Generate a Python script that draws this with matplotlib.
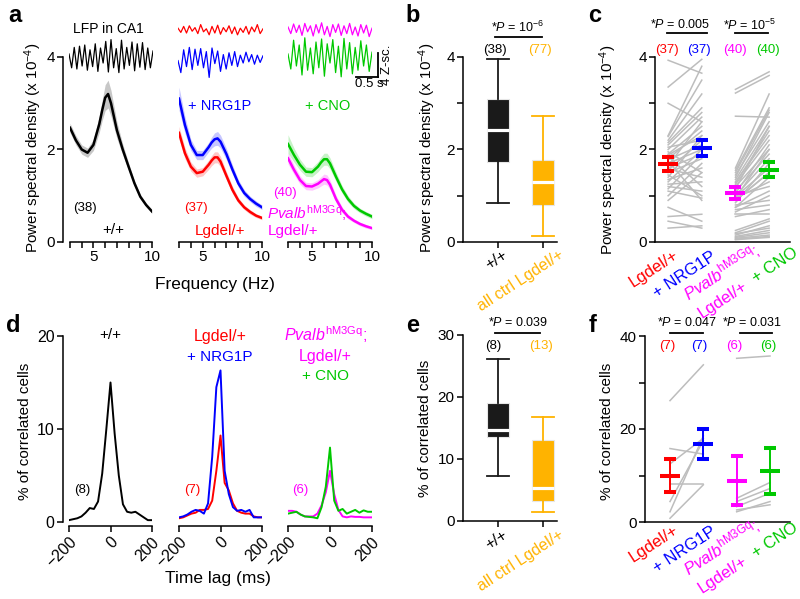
import numpy as np
import matplotlib
matplotlib.use('Agg')
import matplotlib.pyplot as plt
from matplotlib.lines import Line2D

plt.rcParams['font.family'] = ['Liberation Sans', 'DejaVu Sans']
plt.rcParams['mathtext.fontset'] = 'custom'
plt.rcParams['mathtext.rm'] = 'Liberation Sans'
plt.rcParams['mathtext.it'] = 'Liberation Sans:italic'
plt.rcParams['mathtext.bf'] = 'Liberation Sans:bold'
plt.rcParams['axes.linewidth'] = 1.1

# ---------------- data ----------------
# (a) LFP example traces (z-score), peaks/troughs
lfp_duration_s = 1.9
lfp_wt = [0.5, -1.8, 1.6, -2.0, 1.8, -1.5, 2.0, -2.2, 1.2, -1.6, 2.2, -2.4, 1.5, -1.0, 2.6, -2.5,
          2.9, -1.8, 1.4, -2.6, 2.8, -2.0, 1.6, -1.4, 2.5, -2.3, 2.2, -1.7, 2.4, -2.1, 1.5, -1.8, 1.0]
lfp_lg = [0.3, -0.4, 0.6, -0.5, 0.7, -0.2, 0.4, -0.6, 0.9, -0.3, 0.2, -0.8, 0.6, -0.5, 0.8, -0.7,
          0.4, -0.3, 0.7, -0.6, 0.5, -0.8, 0.3, -0.4, 0.6, -0.7, 0.5, -0.3, 0.9, -0.6, 0.2]
lfp_nrg = [0.0, -2.0, 1.8, -1.0, 2.2, -1.5, 1.9, -0.8, 2.0, -1.2, 1.5, -2.8, 2.1, -0.5, 1.6, -1.8,
           1.0, -1.4, 1.3, -0.8, 1.5, -1.0, 0.9, -0.4, 1.4, -0.2, 1.0, -0.6, 0.9, -0.3, 0.8]
lfp_pv = [0.5, -0.6, 1.0, -0.4, 0.8, -0.9, 1.1, -0.3, 0.7, -1.0, 0.9, -0.5, 1.2, -0.8, 0.6, -1.1,
          0.9, -0.4, 1.0, -0.9, 0.7, -0.6, 1.1, -0.8, 0.5, -1.0, 0.9, -0.5, 0.8, -1.1, 0.3]
lfp_cno = [0.5, -2.0, 2.8, -1.5, 2.0, -3.0, 3.2, -2.2, 1.5, -2.8, 2.5, -1.8, 3.0, -3.2, 2.2, -1.0,
           2.9, -2.6, 1.8, -3.3, 3.1, -2.0, 2.4, -2.8, 1.6, -2.2, 2.7, -1.5, 2.0, -2.4, 0.8]

# (a) power spectra (x 1e-4)
freq = [3, 3.5, 4, 4.5, 5, 5.5, 5.75, 6, 6.25, 6.5, 7, 7.5, 8, 8.5, 9, 9.5, 10]
psd_wt = [2.47, 2.2, 2.0, 1.93, 2.1, 2.55, 2.85, 3.12, 3.2, 3.0, 2.42, 2.0, 1.63, 1.27, 0.98, 0.8, 0.66]
psd_wt_sem = [0.1, 0.1, 0.1, 0.1, 0.12, 0.18, 0.22, 0.28, 0.3, 0.28, 0.18, 0.12, 0.08, 0.06, 0.05, 0.04, 0.04]
psd_lg = [2.36, 1.92, 1.63, 1.49, 1.52, 1.67, 1.76, 1.83, 1.83, 1.74, 1.43, 1.13, 0.9, 0.75, 0.65, 0.57, 0.52]
psd_lg_sem = [0.14, 0.12, 0.1, 0.09, 0.09, 0.1, 0.11, 0.12, 0.12, 0.11, 0.09, 0.08, 0.06, 0.05, 0.05, 0.04, 0.04]
psd_nrg = [3.1, 2.53, 2.1, 1.88, 1.88, 2.05, 2.15, 2.22, 2.24, 2.17, 1.9, 1.57, 1.27, 1.06, 0.93, 0.83, 0.75]
psd_nrg_sem = [0.25, 0.18, 0.12, 0.1, 0.1, 0.1, 0.12, 0.14, 0.15, 0.14, 0.12, 0.1, 0.08, 0.07, 0.06, 0.06, 0.05]
psd_pv = [1.81, 1.56, 1.34, 1.21, 1.2, 1.26, 1.31, 1.36, 1.34, 1.24, 0.93, 0.7, 0.55, 0.46, 0.39, 0.34, 0.3]
psd_pv_sem = [0.12, 0.1, 0.09, 0.08, 0.08, 0.09, 0.1, 0.11, 0.11, 0.1, 0.08, 0.06, 0.05, 0.04, 0.04, 0.04, 0.03]
psd_cno = [2.12, 1.88, 1.67, 1.52, 1.51, 1.63, 1.72, 1.79, 1.79, 1.7, 1.41, 1.14, 0.93, 0.78, 0.68, 0.61, 0.55]
psd_cno_sem = [0.2, 0.15, 0.12, 0.1, 0.1, 0.11, 0.12, 0.13, 0.13, 0.12, 0.1, 0.08, 0.07, 0.06, 0.05, 0.05, 0.05]

# (b) box stats: whislo, q1, median, q3, whishi
box_psd_wt = [0.85, 1.73, 2.42, 3.1, 3.95]
box_psd_ctrl = [0.13, 0.8, 1.3, 1.78, 2.72]

# (c) paired PSD values
c_lg = [3.93, 3.35, 3.0, 2.3, 2.28, 2.2, 2.15, 2.1, 2.05, 2.0, 1.95, 1.9, 1.88, 1.85, 1.8, 1.78, 1.75,
        1.7, 1.65, 1.6, 1.58, 1.55, 1.5, 1.45, 1.4, 1.35, 1.3, 1.25, 1.2, 1.15, 1.1, 1.0, 0.9, 0.75,
        0.55, 0.45, 0.3]
c_nrg = [3.65, 3.95, 2.6, 3.8, 3.5, 3.2, 2.9, 2.8, 2.2, 2.7, 1.5, 2.5, 2.3, 1.2, 2.4, 2.1, 0.9,
         2.0, 2.6, 1.9, 1.4, 2.2, 1.8, 1.0, 2.3, 1.6, 2.0, 1.3, 1.1, 1.9, 0.95, 1.7, 1.5, 0.45,
         0.6, 0.3, 0.35]
c_pv = [3.3, 3.22, 2.72, 1.6, 1.55, 1.5, 1.45, 1.4, 1.35, 1.3, 1.28, 1.25, 1.2, 1.15, 1.1, 1.05,
        1.0, 0.98, 0.95, 0.9, 0.85, 0.75, 1.0, 0.95, 0.9, 0.8, 0.75, 0.7, 0.65, 0.6, 0.55, 0.25,
        0.2, 0.18, 0.15, 0.12, 0.1, 0.08, 0.06, 0.05]
c_cno = [3.68, 3.6, 2.7, 3.2, 2.9, 2.85, 2.6, 2.8, 2.5, 2.3, 2.4, 2.2, 2.0, 2.5, 1.9, 2.1,
         1.8, 1.6, 2.0, 1.5, 1.7, 1.4, 1.2, 1.3, 1.5, 0.9, 1.1, 0.8, 1.0, 0.6, 0.7, 0.5,
         0.45, 0.3, 0.35, 0.25, 0.2, 0.15, 0.12, 0.1]
c_means = [1.69, 2.03, 1.05, 1.56]
c_sems = [0.145, 0.165, 0.13, 0.16]

# (d) cross-correlograms
lag_ms = [-200, -180, -160, -140, -120, -100, -80, -60, -40, -20, 0, 20, 40, 60, 80, 100, 120, 140, 160, 180, 200]
xc_wt = [0.2, 0.3, 0.4, 0.6, 1.0, 1.5, 1.4, 2.2, 5.2, 10.0, 15.0, 9.5, 5.0, 1.9, 1.1, 1.0, 1.1, 0.8, 0.5, 0.2, 0.2]
xc_lg = [0.4, 0.5, 0.7, 0.9, 1.0, 1.3, 1.3, 1.4, 2.3, 5.5, 9.3, 4.2, 3.4, 2.0, 1.2, 1.0, 0.9, 0.9, 0.6, 0.5, 0.5]
xc_nrg = [0.5, 0.6, 0.8, 1.1, 1.3, 1.2, 0.9, 2.0, 7.0, 14.5, 16.3, 5.5, 3.0, 1.6, 1.2, 1.3, 1.1, 1.3, 0.5, 0.5, 0.5]
xc_pv = [1.2, 1.2, 1.1, 0.8, 0.6, 0.6, 0.6, 0.9, 1.8, 3.2, 5.5, 3.0, 1.3, 0.6, 0.5, 0.6, 0.55, 0.55, 0.5, 0.5, 0.5]
xc_cno = [0.9, 1.0, 1.1, 0.8, 0.6, 0.55, 0.5, 0.4, 1.6, 3.8, 8.0, 2.3, 1.2, 1.4, 0.9, 1.1, 1.3, 1.0, 1.25, 1.1, 1.1]

# (e) box stats
box_corr_wt = [7.3, 13.5, 14.6, 19.1, 26.1]
box_corr_ctrl = [1.5, 3.3, 5.4, 13.0, 16.7]

# (f) paired correlated-cell percentages
f_lg = [26.1, 15.8, 12.5, 8.2, 4.4, 2.2, 0.8]
f_nrg = [33.8, 14.6, 18.0, 8.2, 17.5, 18.5, 8.0]
f_pv = [35.2, 5.1, 4.4, 3.3, 2.6, 2.2]
f_cno = [35.7, 8.5, 7.2, 6.2, 3.7, 4.4]
f_means = [10.0, 16.8, 8.9, 11.0]
f_sems = [3.5, 3.25, 5.3, 5.0]

# ---------------- style ----------------
RED, BLUE, MAG, GRN, ORG = '#ff0000', '#0000ff', '#ff00ff', '#00c800', '#ffb300'
GRAY = '#bdbdbd'
W, H = 800, 599
PT = 72 / 100.0
fig = plt.figure(figsize=(8, 5.99), dpi=100)


def add_ax(x0, y0, x1, y1):
    ax = fig.add_axes([x0 / W, 1 - y1 / H, (x1 - x0) / W, (y1 - y0) / H])
    ax.patch.set_visible(False)
    return ax


def ftext(x, y, s, **kw):
    kw.setdefault('ha', 'center')
    kw.setdefault('va', 'center')
    return fig.text(x / W, 1 - y / H, s, **kw)


def fline(x0, x1, y, lw=1.3):
    fig.add_artist(Line2D([x0 / W, x1 / W], [1 - y / H, 1 - y / H], color='black', lw=lw))


def style(ax, left=True, left_off=0, bottom_off=0, yb=None, xb=None, fs=11):
    for s in ['top', 'right']:
        ax.spines[s].set_visible(False)
    if left:
        ax.spines['left'].set_position(('outward', left_off * PT))
        if yb is not None:
            ax.spines['left'].set_bounds(*yb)
    else:
        ax.spines['left'].set_visible(False)
        ax.tick_params(axis='y', which='both', left=False, labelleft=False)
    ax.spines['bottom'].set_position(('outward', bottom_off * PT))
    if xb is not None:
        ax.spines['bottom'].set_bounds(*xb)
    ax.tick_params(which='both', direction='out', length=4, width=1.1, labelsize=fs, pad=2)


# ---------------- panel a ----------------
a_cols = [(70, 152), (179, 262), (288, 372)]
psd_sets = [[(psd_wt, psd_wt_sem, 'black')],
            [(psd_lg, psd_lg_sem, RED), (psd_nrg, psd_nrg_sem, BLUE)],
            [(psd_pv, psd_pv_sem, MAG), (psd_cno, psd_cno_sem, GRN)]]
for i, (x0, x1) in enumerate(a_cols):
    ax = add_ax(x0, 57, x1, 242)
    for m, s, c in psd_sets[i]:
        m = np.asarray(m); s = np.asarray(s)
        ax.fill_between(freq, m - s, m + s, color=c, alpha=0.22, lw=0)
        ax.plot(freq, m, color=c, lw=1.8)
    ax.set_xlim(3, 10); ax.set_ylim(0, 4)
    style(ax, left=(i == 0), left_off=7, yb=(0, 4), xb=(3, 10))
    ax.set_xticks([5, 10]); ax.set_xticks([3, 4, 6, 7, 8, 9], minor=True)
    ax.set_yticks([0, 2, 4])

# LFP traces
lfp_sets = [[(lfp_wt, 0.0, 'black')], [(lfp_lg, 4.5, RED), (lfp_nrg, -0.6, BLUE)],
            [(lfp_pv, 4.5, MAG), (lfp_cno, 0.0, GRN)]]
lfp_cols = [(69, 153), (178, 263), (288, 372)]
for i, (x0, x1) in enumerate(lfp_cols):
    ax = add_ax(x0, 15, x1, 85)
    ax.axis('off')
    ax.set_xlim(0, lfp_duration_s); ax.set_ylim(-4.667, 7.0)
    for tr, off, c in lfp_sets[i]:
        t = np.linspace(0, lfp_duration_s, len(tr))
        ax.plot(t, np.asarray(tr) + off, color=c, lw=0.9)
    if i == 2:
        ax.plot([1.536, 2.036], [-3.33, -3.33], color='black', lw=1.3, clip_on=False)
        ax.plot([2.036, 2.036], [-3.33, 0.67], color='black', lw=1.3, clip_on=False)
ftext(369, 84, '0.5 s', fontsize=9.5)
ftext(387, 65, '4 Z-sc.', fontsize=9.5, rotation=90)

ftext(108, 29, 'LFP in CA1', fontsize=10)
ftext(85, 208, '(38)', fontsize=9.5)
ftext(113, 230, '+/+', fontsize=11)
ftext(220, 106, '+ NRG1P', fontsize=10.5, color=BLUE)
ftext(196, 208, '(37)', fontsize=9.5, color=RED)
ftext(220, 231, 'Lgdel/+', fontsize=11, color=RED)
ftext(328, 106, '+ CNO', fontsize=10.5, color=GRN)
ftext(285, 193, '(40)', fontsize=9.5, color=MAG)
ftext(267, 213, r'$\mathit{Pvalb}^{\mathrm{hM3Gq}}$;', fontsize=11, color=MAG, ha='left')
ftext(293, 231, 'Lgdel/+', fontsize=11, color=MAG)
ftext(33, 148, 'Power spectral density (x 10$^{-4}$)', fontsize=11, rotation=90)
ftext(215, 285, 'Frequency (Hz)', fontsize=12.5)


# ---------------- box panels b, e ----------------
def draw_box(ax, stats_list, colors):
    stats = [dict(whislo=s[0], q1=s[1], med=s[2], q3=s[3], whishi=s[4], fliers=[]) for s in stats_list]
    bp = ax.bxp(stats, positions=[1, 2], widths=0.51, capwidths=0.51, patch_artist=True,
                showfliers=False, manage_ticks=False,
                medianprops=dict(color='white', lw=2.3, solid_capstyle='butt'),
                whiskerprops=dict(lw=1.3), capprops=dict(lw=1.3), boxprops=dict(lw=0.8))
    for i, c in enumerate(colors):
        bp['boxes'][i].set_facecolor(c)
        bp['boxes'][i].set_edgecolor('#e6e6e6')
        for art in bp['whiskers'][2 * i:2 * i + 2] + bp['caps'][2 * i:2 * i + 2]:
            art.set_color(c)
    ax.set_xlim(0.222, 2.311)
    ax.set_xticks([1, 2]); ax.set_xticklabels([])


axb = add_ax(463, 57, 557, 242)
draw_box(axb, [box_psd_wt, box_psd_ctrl], ['#1a1a1a', ORG])
axb.set_ylim(0, 4)
style(axb, yb=(0, 4))
axb.set_yticks([0, 2, 4]); axb.set_yticks([1, 3], minor=True)
ftext(427, 148, 'Power spectral density (x 10$^{-4}$)', fontsize=11, rotation=90)
ftext(518, 27, r'*$\mathit{P}$ = 10$^{-6}$', fontsize=9)
fline(495, 542, 37)
ftext(495, 50, '(38)', fontsize=9.5)
ftext(540, 50, '(77)', fontsize=9.5, color=ORG)
ftext(502, 247, '+/+', fontsize=11.5, rotation=33, rotation_mode='anchor', ha='right', va='top')
ftext(558, 247, 'all ctrl Lgdel/+', fontsize=11.5, color=ORG, rotation=33, rotation_mode='anchor', ha='right', va='top')

axe = add_ax(463, 335, 557, 521)
draw_box(axe, [box_corr_wt, box_corr_ctrl], ['#1a1a1a', ORG])
axe.set_ylim(0, 30)
style(axe, yb=(0, 30))
axe.set_yticks([0, 10, 20, 30])
ftext(425, 428, '% of correlated cells', fontsize=11, rotation=90)
ftext(518, 323, r'*$\mathit{P}$ = 0.039', fontsize=9)
fline(495, 540, 333)
ftext(493, 346, '(8)', fontsize=9.5)
ftext(541, 346, '(13)', fontsize=9.5, color=ORG)
ftext(502, 527, '+/+', fontsize=11.5, rotation=33, rotation_mode='anchor', ha='right', va='top')
ftext(558, 527, 'all ctrl Lgdel/+', fontsize=11.5, color=ORG, rotation=33, rotation_mode='anchor', ha='right', va='top')


# ---------------- paired panels c, f ----------------
def draw_pairs(ax, pairs, means, sems, colors):
    for (xa, xb), (va, vb) in pairs:
        for a, b in zip(va, vb):
            ax.plot([xa, xb], [a, b], color=GRAY, lw=1.1, zorder=1)
    for k, (m, s, c) in enumerate(zip(means, sems, colors)):
        ax.errorbar([k], [m], yerr=[s], fmt='_', color=c, ms=14.5, mew=2.9,
                    capsize=4.3, elinewidth=1.4, capthick=1.4, zorder=3)


cond_colors = [RED, BLUE, MAG, GRN]


def cond_labels(dy):
    kw = dict(fontsize=12, rotation=33, rotation_mode='anchor', ha='right', va='top')
    ftext(673, 247 + dy, 'Lgdel/+', color=RED, **kw)
    ftext(711, 249 + dy, '+ NRG1P', color=BLUE, **kw)
    ftext(752, 240 + dy, r'$\mathit{Pvalb}^{\mathrm{hM3Gq}}$;', color=MAG, **kw)
    ftext(742, 278 + dy, 'Lgdel/+', color=MAG, **kw)
    ftext(792, 245 + dy, '+ CNO', color=GRN, **kw)


axc = add_ax(655, 57, 790, 242)
draw_pairs(axc, [((0, 1), (c_lg, c_nrg)), ((2, 3), (c_pv, c_cno))], c_means, c_sems, cond_colors)
axc.set_xlim(-0.39, 3.62); axc.set_ylim(0, 4)
style(axc, yb=(0, 4))
axc.set_xticks([])
axc.set_yticks([0, 2, 4]); axc.set_yticks([1, 3], minor=True)
ftext(608, 150, 'Power spectral density (x 10$^{-4}$)', fontsize=11, rotation=90)
ftext(680, 25, r'*$\mathit{P}$ = 0.005', fontsize=9)
fline(667, 707, 33)
ftext(750, 25, r'*$\mathit{P}$ = 10$^{-5}$', fontsize=9)
fline(735, 768, 33)
for xx, c, s in zip([667, 699, 735, 768], cond_colors, ['(37)', '(37)', '(40)', '(40)']):
    ftext(xx, 50, s, fontsize=9.5, color=c)
cond_labels(0)

axf = add_ax(645, 336, 790, 522)
draw_pairs(axf, [((0, 1), (f_lg, f_nrg)), ((2, 3), (f_pv, f_cno))], f_means, f_sems, cond_colors)
axf.set_xlim(-0.75, 3.6); axf.set_ylim(0, 40)
style(axf, yb=(0, 40))
axf.set_xticks([])
axf.set_yticks([0, 20, 40]); axf.set_yticks([10, 30], minor=True)
ftext(607, 431, '% of correlated cells', fontsize=11, rotation=90)
ftext(687, 323, r'*$\mathit{P}$ = 0.047', fontsize=9)
fline(670, 703, 333)
ftext(752, 323, r'*$\mathit{P}$ = 0.031', fontsize=9)
fline(740, 772, 333)
for xx, c, s in zip([667, 699, 734, 768], cond_colors, ['(7)', '(7)', '(6)', '(6)']):
    ftext(xx, 346, s, fontsize=9.5, color=c)
cond_labels(275)

# ---------------- panel d ----------------
xc_sets = [[(xc_wt, 'black')], [(xc_lg, RED), (xc_nrg, BLUE)], [(xc_pv, MAG), (xc_cno, GRN)]]
d_cols = [(69, 152), (179, 262), (288, 372)]
for i, (x0, x1) in enumerate(d_cols):
    ax = add_ax(x0, 336, x1, 522)
    for vals, c in xc_sets[i]:
        ax.plot(lag_ms, vals, color=c, lw=1.4)
    ax.set_xlim(-200, 200); ax.set_ylim(0, 20)
    style(ax, left=(i == 0), left_off=6, bottom_off=4, yb=(0, 20), xb=(-200, 200), fs=11.5)
    ax.set_xticks([-200, 0, 200])
    ax.set_xticklabels(['\u2212200', '0', '200'], rotation=45, ha='right', va='top', rotation_mode='anchor')
    ax.set_yticks([0, 10, 20])
ftext(25, 431, '% of correlated cells', fontsize=11, rotation=90)
ftext(218, 578, 'Time lag (ms)', fontsize=12.5)
ftext(110, 335, '+/+', fontsize=11)
ftext(82, 490, '(8)', fontsize=9.5)
ftext(220, 337, 'Lgdel/+', fontsize=11.5, color=RED)
ftext(220, 357, '+ NRG1P', fontsize=11, color=BLUE)
ftext(192, 490, '(7)', fontsize=9.5, color=RED)
ftext(326, 335, r'$\mathit{Pvalb}^{\mathrm{hM3Gq}}$;', fontsize=11.5, color=MAG)
ftext(325, 357, 'Lgdel/+', fontsize=11.5, color=MAG)
ftext(325, 376, '+ CNO', fontsize=11, color=GRN)
ftext(300, 490, '(6)', fontsize=9.5, color=MAG)

# panel letters
for s, x, y in [('a', 15, 15), ('b', 413, 15), ('c', 595, 15), ('d', 13, 325), ('e', 413, 325), ('f', 593, 325)]:
    ftext(x, y, s, fontsize=17, fontweight='bold')

fig.savefig('out.png', dpi=100)
